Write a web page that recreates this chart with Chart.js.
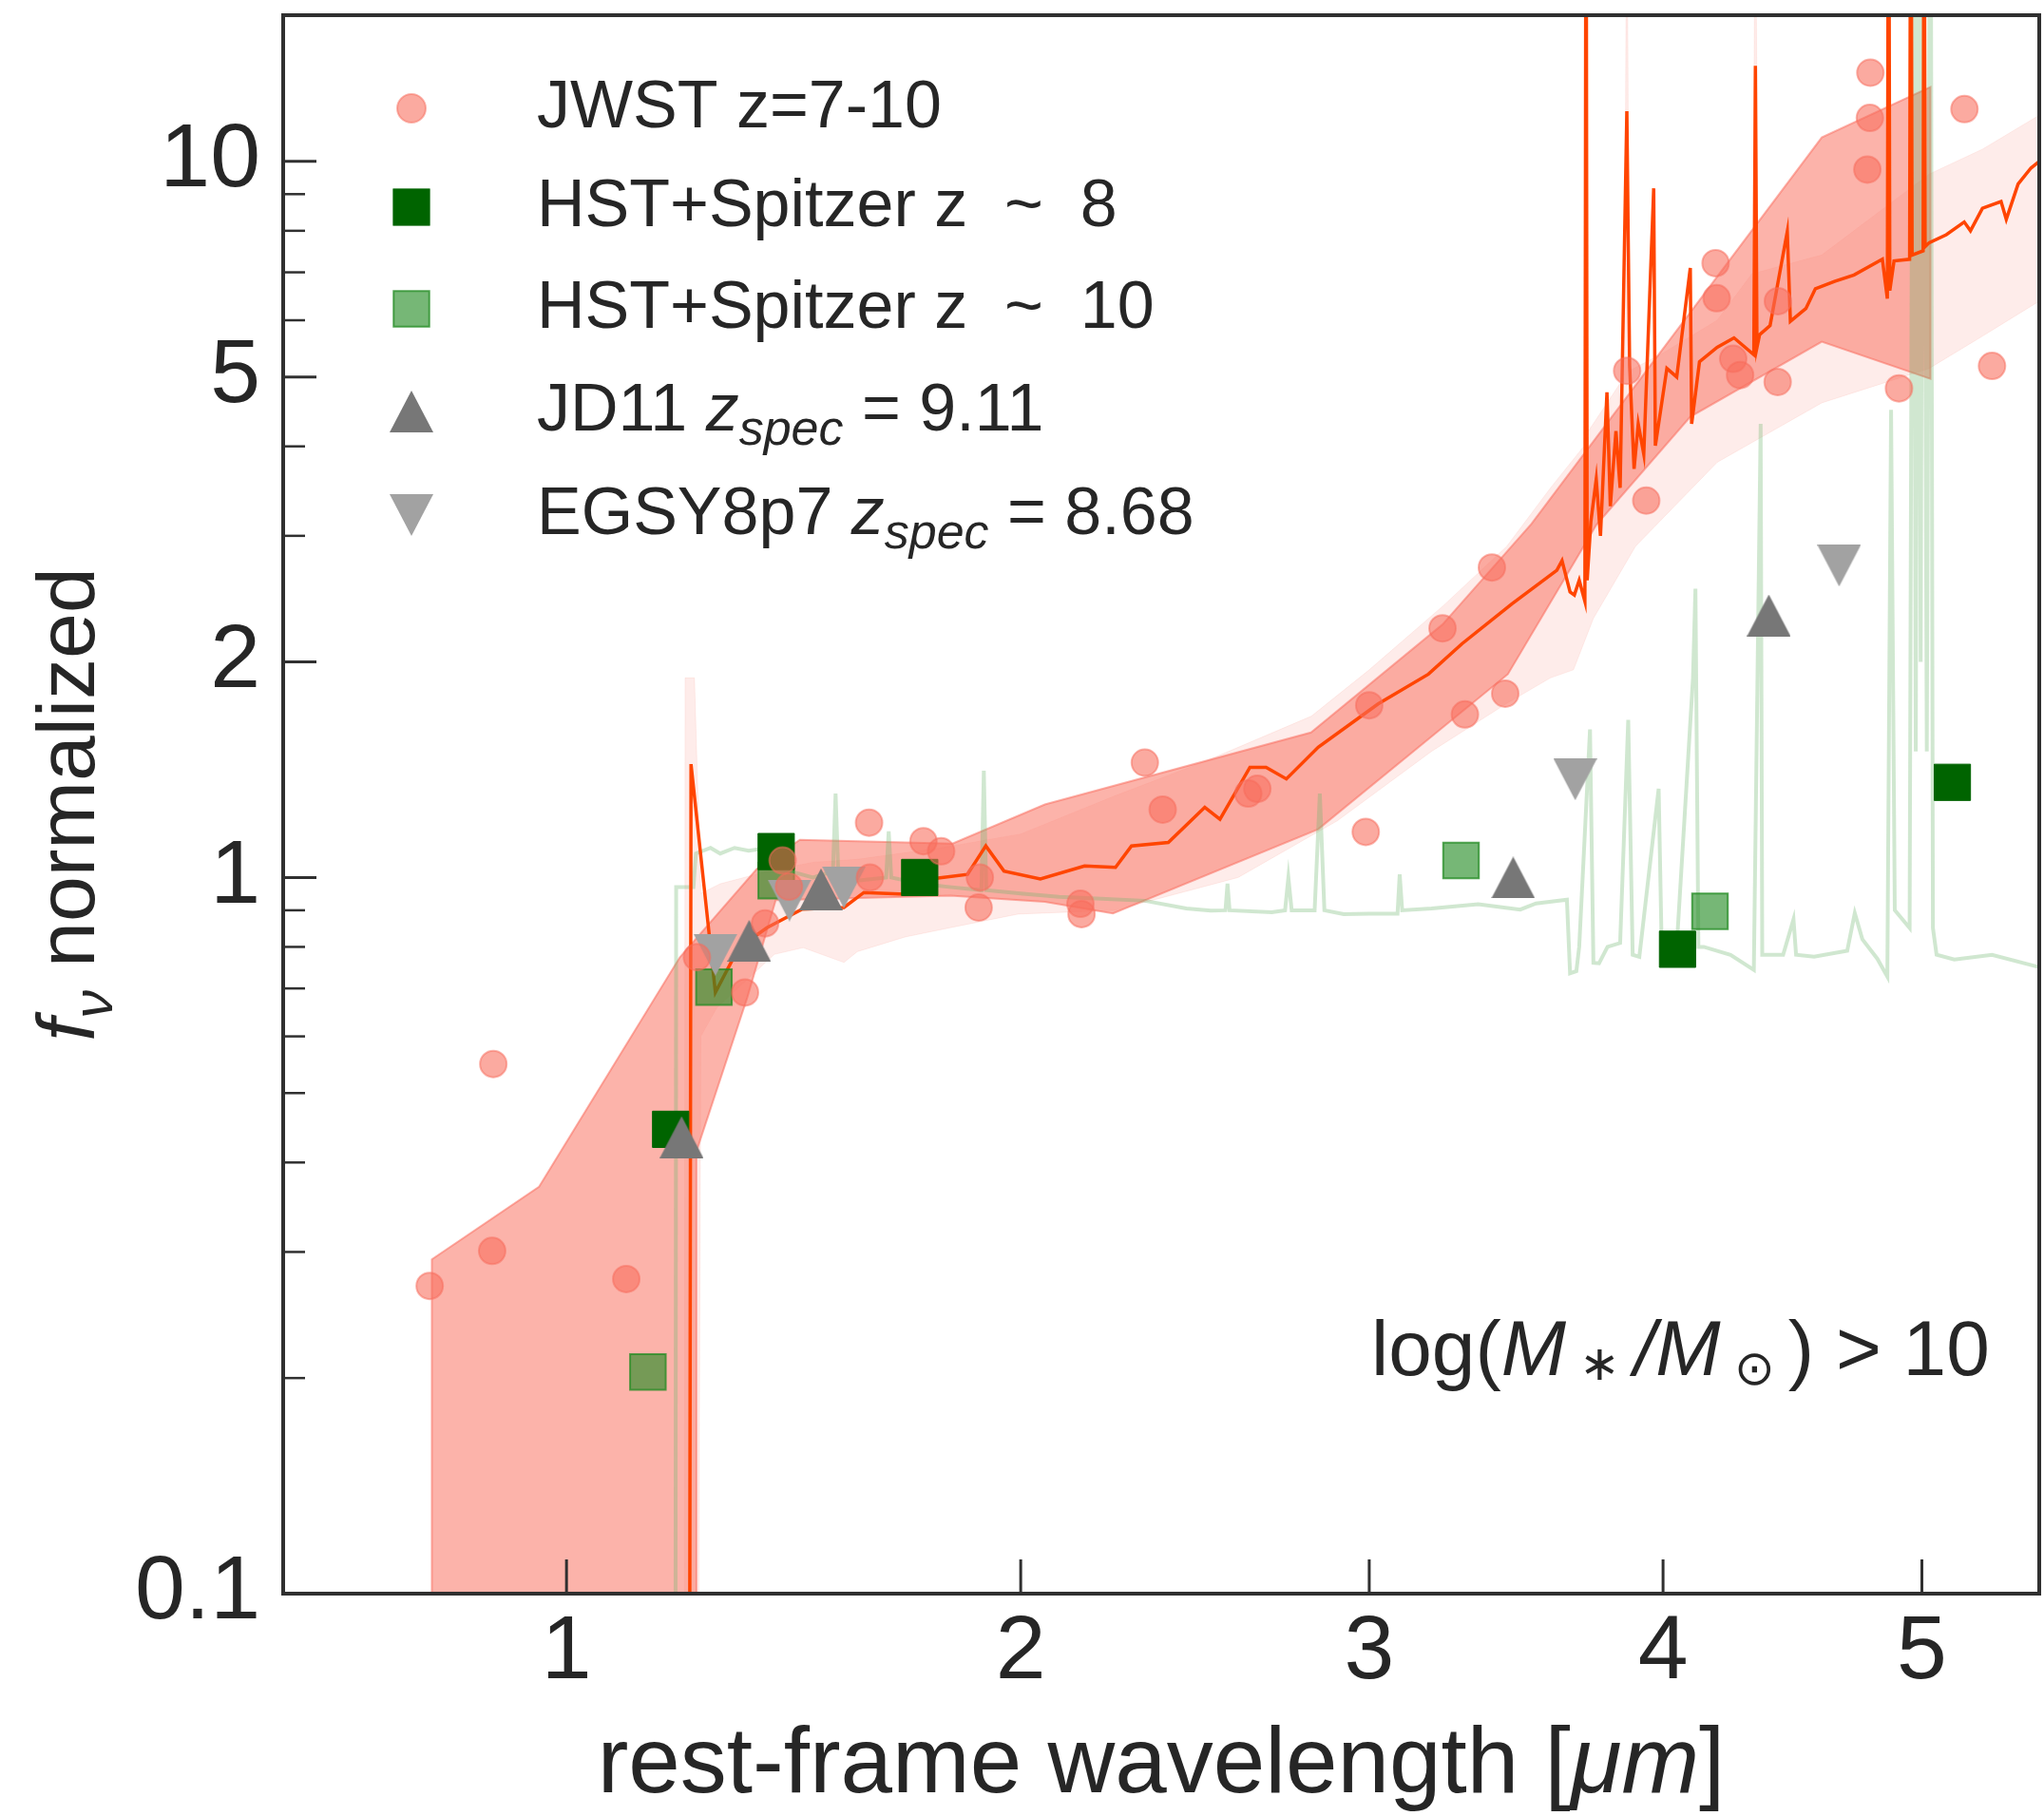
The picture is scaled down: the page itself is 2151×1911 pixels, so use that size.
<!DOCTYPE html>
<html>
<head>
<meta charset="utf-8">
<style>
  html, body { margin: 0; padding: 0; background: #ffffff; }
  #wrap { width: 2151px; height: 1911px; }
</style>
<script src="https://cdn.jsdelivr.net/npm/chart.js@4/dist/chart.umd.min.js"></script>
</head>
<body>
<div id="wrap"><canvas id="c" width="2151" height="1911"></canvas></div>
<script>
// ---------------- axis ticks ----------------
const xTickValues = [1, 2, 3, 4, 5];
const xTickLabels = ['1', '2', '3', '4', '5'];
const yTickValues = [0.1, 1, 2, 5, 10];
const yTickLabels = ['0.1', '1', '2', '5', '10'];
const yMinorTicks = [0.2, 0.3, 0.4, 0.5, 0.6, 0.7, 0.8, 0.9, 3, 4, 6, 7, 8, 9];

// ---------------- scatter series ----------------
const jwstX = [0.766, 0.869, 0.871, 1.112, 1.252, 1.352, 1.395, 1.433, 1.447, 1.628, 1.63, 1.757, 1.80, 1.893, 1.896, 2.157, 2.16, 2.333, 2.383, 2.63, 2.657, 2.989, 3.0, 3.236, 3.31, 3.40, 3.445, 3.87, 3.939, 4.194, 4.198, 4.26, 4.286, 4.429, 4.43, 4.78, 4.79, 4.792, 4.907, 5.175, 5.29];
const jwstY = [0.269, 0.301, 0.549, 0.275, 0.774, 0.691, 0.863, 1.056, 0.971, 1.193, 1.0, 1.124, 1.088, 0.908, 1.0, 0.919, 0.889, 1.447, 1.244, 1.31, 1.33, 1.158, 1.74, 2.228, 1.689, 2.71, 1.806, 5.1, 3.36, 7.21, 6.44, 5.3, 5.03, 4.92, 6.38, 9.74, 11.5, 13.3, 4.82, 11.83, 5.18];

const hst8X = [1.199, 1.419, 1.748, 4.053, 5.125];
const hst8Y = [0.445, 1.087, 1.0, 0.794, 1.358];

const hst10X = [1.154, 1.287, 1.419, 3.297, 4.173];
const hst10Y = [0.204, 0.703, 0.99, 1.056, 0.897];

const jd11X = [1.221, 1.361, 1.518, 3.472, 4.395];
const jd11Y = [0.434, 0.816, 0.963, 1.0, 2.323];

const egsyX = [1.29, 1.448, 1.570, 3.686, 4.668];
const egsyY = [0.78, 0.929, 0.969, 1.371, 2.726];

// ---------------- JWST range band (salmon) ----------------
const bandUpX = [0.7695, 0.7695, 0.9506, 1.2175, 1.3774, 1.471, 1.828, 2.063, 2.819, 3.236, 3.534, 4.60, 5.035];
const bandUpY = [0.05, 0.293, 0.370, 0.774, 1.028, 1.129, 1.115, 1.265, 1.594, 2.256, 3.116, 10.8, 12.7];
const bandLoX = [1.251, 1.251, 1.357, 1.418, 1.823, 2.063, 2.245, 2.841, 3.454, 3.66, 3.761, 4.10, 4.60, 5.035];
const bandLoY = [0.05, 0.4145, 0.68, 0.93, 0.943, 0.925, 0.891, 1.168, 1.923, 2.66, 3.11, 4.4, 5.6, 4.97];

// ---------------- model range band (light pink) ----------------
const lightUpX = [1.226, 1.228, 1.247, 1.26, 1.30, 1.40, 1.50, 1.60, 1.80, 2.0, 2.25, 2.5, 2.82, 3.0, 3.24, 3.45, 3.60, 3.716, 3.724, 3.732, 3.86, 3.869, 3.878, 4.0, 4.20, 4.335, 4.344, 4.353, 4.60, 5.03, 5.25, 5.49];
const lightUpY = [0.02, 1.9, 1.9, 0.95, 0.98, 1.02, 1.05, 1.06, 1.10, 1.15, 1.30, 1.45, 1.68, 1.95, 2.40, 2.90, 3.50, 4.0, 30, 4.2, 5.0, 30, 5.1, 5.4, 6.0, 7.0, 30, 7.0, 7.4, 9.6, 10.4, 11.6];
const lightLoX = [1.252, 1.26, 1.293, 1.415, 1.478, 1.57, 1.601, 1.713, 1.823, 1.993, 2.25, 2.6, 2.9, 3.2, 3.45, 3.6, 3.68, 3.75, 3.9, 4.2, 4.6, 5.03, 5.25, 5.49];
const lightLoY = [0.02, 0.60, 0.658, 0.781, 0.798, 0.761, 0.788, 0.826, 0.851, 0.889, 0.90, 1.0, 1.2, 1.5, 1.75, 1.9, 1.95, 2.3, 2.9, 3.8, 4.6, 5.14, 5.7, 6.38];

// ---------------- model spectrum (orange-red) ----------------
const modelX = [1.236, 1.240, 1.290, 1.339, 1.399, 1.476, 1.570, 1.616, 1.713, 1.774, 1.865, 1.911, 1.957, 2.051, 2.168, 2.252, 2.296, 2.399, 2.503, 2.547, 2.635, 2.683, 2.744, 2.841, 3.028, 3.19, 3.30, 3.467, 3.622, 3.64, 3.668, 3.683, 3.70, 3.720, 3.724, 3.728, 3.741, 3.76, 3.775, 3.798, 3.81, 3.83, 3.845, 3.869, 3.873, 3.879, 3.895, 3.91, 3.93, 3.966, 3.972, 4.014, 4.05, 4.10, 4.105, 4.134, 4.20, 4.263, 4.338, 4.344, 4.35, 4.36, 4.40, 4.466, 4.478, 4.538, 4.575, 4.65, 4.727, 4.840, 4.86, 4.865, 4.87, 4.887, 4.95, 4.955, 4.96, 5.005, 5.009, 5.013, 5.03, 5.10, 5.174, 5.20, 5.25, 5.328, 5.35, 5.40, 5.455, 5.49];
const modelY = [0.02, 1.44, 0.691, 0.798, 0.851, 0.903, 0.908, 0.953, 0.948, 0.995, 1.01, 1.107, 1.021, 0.995, 1.038, 1.033, 1.107, 1.119, 1.253, 1.206, 1.425, 1.425, 1.373, 1.52, 1.747, 1.923, 2.12, 2.41, 2.685, 2.77, 2.505, 2.48, 2.6, 2.43, 40, 2.6, 3.14, 3.6, 3.0, 4.76, 3.3, 4.2, 3.5, 11.75, 8.4, 5.19, 3.72, 4.3, 3.9, 9.17, 4.01, 5.14, 5.0, 7.1, 4.3, 5.25, 5.5, 5.67, 5.37, 13.6, 5.5, 5.73, 5.9, 7.98, 5.98, 6.23, 6.64, 6.8, 6.94, 7.3, 6.43, 40, 6.6, 7.26, 7.3, 40, 7.4, 7.5, 40, 7.6, 7.7, 7.9, 8.23, 8.0, 8.6, 8.79, 8.3, 9.3, 9.79, 10.0];

// ---------------- HST+Spitzer template spectrum (light green) ----------------
const templX = [1.208, 1.210, 1.245, 1.250, 1.28, 1.30, 1.33, 1.36, 1.40, 1.42, 1.45, 1.50, 1.545, 1.551, 1.557, 1.60, 1.668, 1.674, 1.68, 1.75, 1.82, 1.90, 1.906, 1.912, 2.00, 2.10, 2.20, 2.333, 2.45, 2.52, 2.563, 2.569, 2.575, 2.70, 2.74, 2.75, 2.76, 2.83, 2.846, 2.86, 2.92, 3.00, 3.09, 3.097, 3.105, 3.20, 3.354, 3.496, 3.55, 3.657, 3.668, 3.69, 3.70, 3.738, 3.75, 3.77, 3.80, 3.845, 3.874, 3.89, 3.914, 3.984, 3.995, 4.05, 4.11, 4.119, 4.13, 4.15, 4.25, 4.338, 4.364, 4.37, 4.45, 4.49, 4.50, 4.57, 4.70, 4.73, 4.76, 4.82, 4.86, 4.875, 4.89, 4.95, 4.965, 4.975, 4.985, 4.995, 5.005, 5.02, 5.035, 5.045, 5.06, 5.133, 5.29, 5.48, 5.49];
const templY = [0.02, 0.97, 0.97, 1.08, 1.10, 1.08, 1.10, 1.09, 1.10, 1.03, 1.02, 1.00, 1.02, 1.31, 1.02, 0.99, 1.00, 1.16, 1.00, 0.98, 0.97, 0.96, 1.41, 0.96, 0.95, 0.94, 0.935, 0.928, 0.905, 0.899, 0.90, 0.98, 0.90, 0.894, 0.90, 1.00, 0.90, 0.90, 1.31, 0.90, 0.889, 0.89, 0.89, 1.01, 0.90, 0.905, 0.918, 0.902, 0.92, 0.931, 0.735, 0.74, 0.80, 1.61, 0.76, 0.759, 0.80, 0.81, 1.66, 0.78, 0.775, 1.33, 0.80, 0.80, 1.9, 2.53, 0.80, 0.80, 0.78, 0.743, 4.3, 0.78, 0.78, 0.874, 0.78, 0.775, 0.79, 0.892, 0.82, 0.77, 0.727, 4.5, 0.9, 0.85, 40, 1.5, 40, 2.0, 40, 1.5, 40, 0.85, 0.78, 0.768, 0.78, 0.751, 0.75];

// ---------------- helpers ----------------
const FONT = '"Liberation Sans", Arial, Helvetica, sans-serif';
const TEXT = '#262626';
const AXIS = '#303030';

function pts(xs, ys) { return xs.map((x, i) => ({ x: x, y: ys[i] })); }
function polygon(ux, uy, lx, ly) { return pts(ux, uy).concat(pts(lx, ly).reverse()); }

function makeTri(color, down) {
  const w = 46, h = 44;
  const c = document.createElement('canvas');
  c.width = w; c.height = h;
  const g = c.getContext('2d');
  g.fillStyle = color;
  g.beginPath();
  if (!down) { g.moveTo(w / 2, 0); g.lineTo(w, h); g.lineTo(0, h); }
  else { g.moveTo(0, 0); g.lineTo(w, 0); g.lineTo(w / 2, h); }
  g.closePath();
  g.fill();
  return c;
}
const triUp = makeTri('#777777', false);
const triDown = makeTri('#a2a2a2', true);

// ---------------- square-root x scale ----------------
class SqrtScale extends Chart.LinearScale {
  getPixelForValue(value) {
    const a = Math.sqrt(this.min), b = Math.sqrt(this.max);
    return this.getPixelForDecimal((Math.sqrt(value) - a) / (b - a));
  }
  getValueForPixel(pixel) {
    const a = Math.sqrt(this.min), b = Math.sqrt(this.max);
    const s = a + this.getDecimalForPixel(pixel) * (b - a);
    return s * s;
  }
}
SqrtScale.id = 'sqrt';
SqrtScale.defaults = Chart.LinearScale.defaults;
Chart.register(SqrtScale);

// ---------------- rich text ----------------
function drawRich(ctx, parts, x, y, align, size) {
  const fonts = parts.map(p => (p.it ? 'italic ' : '') + Math.round(size * (p.s || 1)) + 'px ' + FONT);
  let total = 0;
  const widths = parts.map((p, i) => { ctx.font = fonts[i]; const w = ctx.measureText(p.t).width; total += w; return w; });
  let cx = align === 'center' ? x - total / 2 : (align === 'right' ? x - total : x);
  ctx.textAlign = 'left';
  ctx.textBaseline = 'alphabetic';
  parts.forEach((p, i) => {
    ctx.font = fonts[i];
    ctx.fillText(p.t, cx, y + (p.dy || 0) * size);
    cx += widths[i];
  });
}

// ---------------- datasets ----------------
const dsLight = {
  label: 'model range', data: polygon(lightUpX, lightUpY, lightLoX, lightLoY),
  showLine: true, fill: 'shape', backgroundColor: 'rgba(250,128,114,0.15)',
  borderColor: 'rgba(250,128,114,0.12)', borderWidth: 1, pointRadius: 0, tension: 0, order: 10
};
const dsBand = {
  label: 'JWST range', data: polygon(bandUpX, bandUpY, bandLoX, bandLoY),
  showLine: true, fill: 'shape', backgroundColor: 'rgba(250,128,114,0.6)',
  borderColor: 'rgba(250,110,95,0.55)', borderWidth: 2, pointRadius: 0, tension: 0, order: 9
};
const dsTempl = {
  label: 'template', data: pts(templX, templY), showLine: true, fill: false,
  borderColor: 'rgba(110,180,110,0.32)', borderWidth: 4, pointRadius: 0, tension: 0, order: 8
};
const dsModel = {
  label: 'model', data: pts(modelX, modelY), showLine: true, fill: false,
  borderColor: '#ff4500', borderWidth: 3.5, pointRadius: 0, tension: 0, order: 7
};
const dsHst10 = {
  label: 'HST+Spitzer z ~ 10', data: pts(hst10X, hst10Y), showLine: false,
  pointStyle: 'rect', pointRadius: 26.5, backgroundColor: 'rgba(34,139,34,0.62)',
  borderColor: 'rgba(34,139,34,0.75)', borderWidth: 2, order: 6
};
const dsHst8 = {
  label: 'HST+Spitzer z ~ 8', data: pts(hst8X, hst8Y), showLine: false,
  pointStyle: 'rect', pointRadius: 27, backgroundColor: '#006400',
  borderColor: '#006400', borderWidth: 1, order: 5
};
const dsEgsy = {
  label: 'EGSY8p7', data: pts(egsyX, egsyY), showLine: false,
  pointStyle: triDown, pointRadius: 22, order: 4
};
const dsJd11 = {
  label: 'JD11', data: pts(jd11X, jd11Y), showLine: false,
  pointStyle: triUp, pointRadius: 22, order: 3
};
const dsJwst = {
  label: 'JWST z=7-10', data: pts(jwstX, jwstY), showLine: false,
  pointStyle: 'circle', pointRadius: 14, backgroundColor: 'rgba(248,108,92,0.58)',
  borderColor: 'rgba(248,108,92,0.5)', borderWidth: 2, order: 1
};

// ---------------- plugin: frame, inward ticks, legend, titles ----------------
const decor = {
  id: 'decor',
  afterDraw(chart) {
    const ctx = chart.ctx;
    const a = chart.chartArea;
    const xs = chart.scales.x, ys = chart.scales.y;
    ctx.save();
    ctx.strokeStyle = AXIS;
    ctx.lineCap = 'butt';
    // inward ticks
    ctx.lineWidth = 3;
    xTickValues.forEach(v => {
      const px = xs.getPixelForValue(v);
      ctx.beginPath(); ctx.moveTo(px, a.bottom); ctx.lineTo(px, a.bottom - 36); ctx.stroke();
    });
    yTickValues.forEach(v => {
      const py = ys.getPixelForValue(v);
      ctx.beginPath(); ctx.moveTo(a.left, py); ctx.lineTo(a.left + 35, py); ctx.stroke();
    });
    ctx.lineWidth = 2.5;
    yMinorTicks.forEach(v => {
      const py = ys.getPixelForValue(v);
      ctx.beginPath(); ctx.moveTo(a.left, py); ctx.lineTo(a.left + 23, py); ctx.stroke();
    });
    // frame
    ctx.lineWidth = 4;
    ctx.strokeRect(a.left, a.top, a.right - a.left, a.bottom - a.top);

    // legend
    ctx.fillStyle = TEXT;
    const lx = a.left + 135, tx = a.left + 267;
    const rows = [
      { ds: dsJwst, y: a.top + 98, parts: [{ t: 'JWST z=7-10' }] },
      { ds: dsHst8, y: a.top + 202, parts: [{ t: 'HST+Spitzer z  ~  8' }] },
      { ds: dsHst10, y: a.top + 309, parts: [{ t: 'HST+Spitzer z  ~  10' }] },
      { ds: dsJd11, y: a.top + 417, parts: [{ t: 'JD11 ' }, { t: 'z', it: true }, { t: 'spec', it: true, s: 0.74, dy: 0.22 }, { t: ' = 9.11' }] },
      { ds: dsEgsy, y: a.top + 526, parts: [{ t: 'EGSY8p7 ' }, { t: 'z', it: true }, { t: 'spec', it: true, s: 0.74, dy: 0.22 }, { t: ' = 8.68' }] }
    ];
    rows.forEach(r => {
      const d = r.ds;
      const st = d.pointStyle;
      if (st === 'circle') {
        ctx.beginPath(); ctx.arc(lx, r.y, 15, 0, Math.PI * 2);
        ctx.fillStyle = d.backgroundColor; ctx.fill();
        ctx.lineWidth = d.borderWidth; ctx.strokeStyle = d.borderColor; ctx.stroke();
      } else if (st === 'rect') {
        const h = d.pointRadius * Math.SQRT1_2;
        ctx.fillStyle = d.backgroundColor; ctx.fillRect(lx - h, r.y - h, 2 * h, 2 * h);
        ctx.lineWidth = d.borderWidth; ctx.strokeStyle = d.borderColor; ctx.strokeRect(lx - h, r.y - h, 2 * h, 2 * h);
      } else {
        ctx.drawImage(st, lx - st.width / 2, r.y - st.height / 2);
      }
      ctx.fillStyle = TEXT;
      drawRich(ctx, r.parts, tx, r.y + 20, 'left', 70);
    });

    // annotation
    drawRich(ctx, [
      { t: 'log(' }, { t: 'M', it: true }, { t: ' \u2217 ', s: 0.62, dy: 0.06 }, { t: '/', it: true },
      { t: 'M', it: true }, { t: ' \u2299 ', s: 0.62, dy: 0.12 }, { t: ')' }, { t: ' > 10' }
    ], 1443, 1447, 'left', 82);

    // x title
    drawRich(ctx, [{ t: 'rest-frame wavelength [' }, { t: '\u03bcm', it: true }, { t: ']' }],
      (a.left + a.right) / 2, 1886, 'center', 98);

    // y title
    ctx.save();
    ctx.translate(99, (a.top + a.bottom) / 2);
    ctx.rotate(-Math.PI / 2);
    drawRich(ctx, [{ t: 'f', it: true }, { t: '\u03bd', it: true, s: 0.7, dy: 0.22 }, { t: ' normalized' }], 0, 0, 'center', 86);
    ctx.restore();

    ctx.restore();
  }
};

new Chart(document.getElementById('c'), {
  type: 'scatter',
  data: { datasets: [dsLight, dsBand, dsTempl, dsModel, dsHst10, dsHst8, dsEgsy, dsJd11, dsJwst] },
  options: {
    responsive: false,
    animation: false,
    events: [],
    layout: { autoPadding: false, padding: { left: 0, right: 5, top: 16, bottom: 0 } },
    plugins: { legend: { display: false }, tooltip: { enabled: false } },
    scales: {
      x: {
        type: 'sqrt', min: 0.55, max: 5.49, bounds: 'data',
        grid: { display: false, drawTicks: false }, border: { display: false },
        afterBuildTicks: s => { s.ticks = xTickValues.map(v => ({ value: v })); },
        afterFit: s => { s.height = 1911 - 1677; s.paddingLeft = 0; s.paddingRight = 0; s.paddingTop = 0; s.paddingBottom = 0; },
        ticks: {
          autoSkip: false, maxRotation: 0, padding: 6, color: TEXT,
          font: { family: FONT, size: 95 },
          callback: v => xTickLabels[xTickValues.indexOf(v)]
        }
      },
      y: {
        type: 'logarithmic', min: 0.1, max: 16,
        grid: { display: false, drawTicks: false }, border: { display: false },
        afterBuildTicks: s => { s.ticks = yTickValues.map(v => ({ value: v })); },
        afterFit: s => { s.width = 298; s.paddingTop = 0; s.paddingBottom = 0; s.paddingLeft = 0; s.paddingRight = 0; },
        ticks: {
          autoSkip: false, padding: 24, color: TEXT,
          font: { family: FONT, size: 95 },
          callback: v => yTickLabels[yTickValues.indexOf(v)]
        }
      }
    }
  },
  plugins: [decor]
});
</script>
</body>
</html>
